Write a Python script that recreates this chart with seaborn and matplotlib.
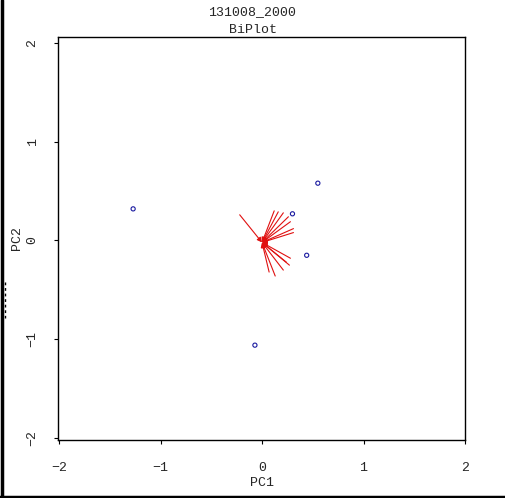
import matplotlib
matplotlib.use("Agg")
import matplotlib.pyplot as plt
import seaborn as sns
import pandas as pd
from matplotlib.lines import Line2D

# sample scores (PC1, PC2)
score_pc1 = [-1.27, 0.55, 0.30, 0.44, -0.07]
score_pc2 = [0.32, 0.58, 0.27, -0.15, -1.06]

# variable loadings (arrow ends)
load_pc1 = [-0.22, 0.12, 0.16, 0.21, 0.26, 0.28, 0.31, 0.31,
            0.28, 0.27, 0.21, 0.13, 0.07, 0.24]
load_pc2 = [0.26, 0.30, 0.29, 0.28, 0.24, 0.19, 0.12, 0.08,
            -0.18, -0.25, -0.30, -0.36, -0.32, -0.22]

ticks = [-2, -1, 0, 1, 2]

sns.set_style("white")
plt.rcParams['font.family'] = ['Liberation Mono', 'DejaVu Sans']

fig = plt.figure(figsize=(5.05, 4.98), dpi=100)
ax = fig.add_axes([0.1149, 0.1165, 0.8059, 0.8092])

df = pd.DataFrame({"PC1": score_pc1, "PC2": score_pc2})
sns.scatterplot(data=df, x="PC1", y="PC2", ax=ax, marker="o", s=9,
                facecolor="none", edgecolor="#1a1aa0", linewidth=0.8)

for lx, ly in zip(load_pc1, load_pc2):
    ax.annotate("", xy=(0, -0.02), xytext=(lx, ly),
                arrowprops=dict(arrowstyle="-|>", color="#e01010", lw=0.8,
                                mutation_scale=7, shrinkA=0, shrinkB=0))

ax.set_xlim(-2.01, 2.0)
ax.set_ylim(-2.02, 2.06)
ax.set_xticks(ticks)
ax.set_yticks(ticks)
ax.set_xticklabels([str(t).replace("-", "\u2212") for t in ticks], fontsize=9.5)
ax.set_yticklabels([str(t).replace("-", "\u2212") for t in ticks], fontsize=9.5,
                   rotation=90, va="center")
ax.tick_params(axis="both", direction="out", length=3, width=0.8,
               color="black", bottom=True, left=True, pad=13)
ax.tick_params(axis="y", pad=11)
for s in ax.spines.values():
    s.set_color("black")
    s.set_linewidth(1.0)

ax.set_xlabel("PC1", fontsize=9.5, labelpad=2)
ax.set_ylabel("PC2", fontsize=9.5)
ax.yaxis.set_label_coords(-0.086, 0.5)

fig.text(0.5, 1 - 12 / 498, "131008_2000", ha="center", va="center", fontsize=9.5)
fig.text(0.5, 1 - 30 / 498, "BiPlot", ha="center", va="center", fontsize=9.5)

# window frame edges seen in the reference
fig.add_artist(Line2D([1.5 / 505, 1.5 / 505], [0, 1], color="black", lw=2.5))
fig.add_artist(Line2D([0, 1], [1.5 / 498, 1.5 / 498], color="black", lw=2.5))
fig.add_artist(Line2D([4.5 / 505, 4.5 / 505], [1 - 282 / 498, 1 - 318 / 498],
                      color="black", lw=1, ls=(0, (2, 2))))

fig.savefig("out.png", dpi=100, facecolor="white")
